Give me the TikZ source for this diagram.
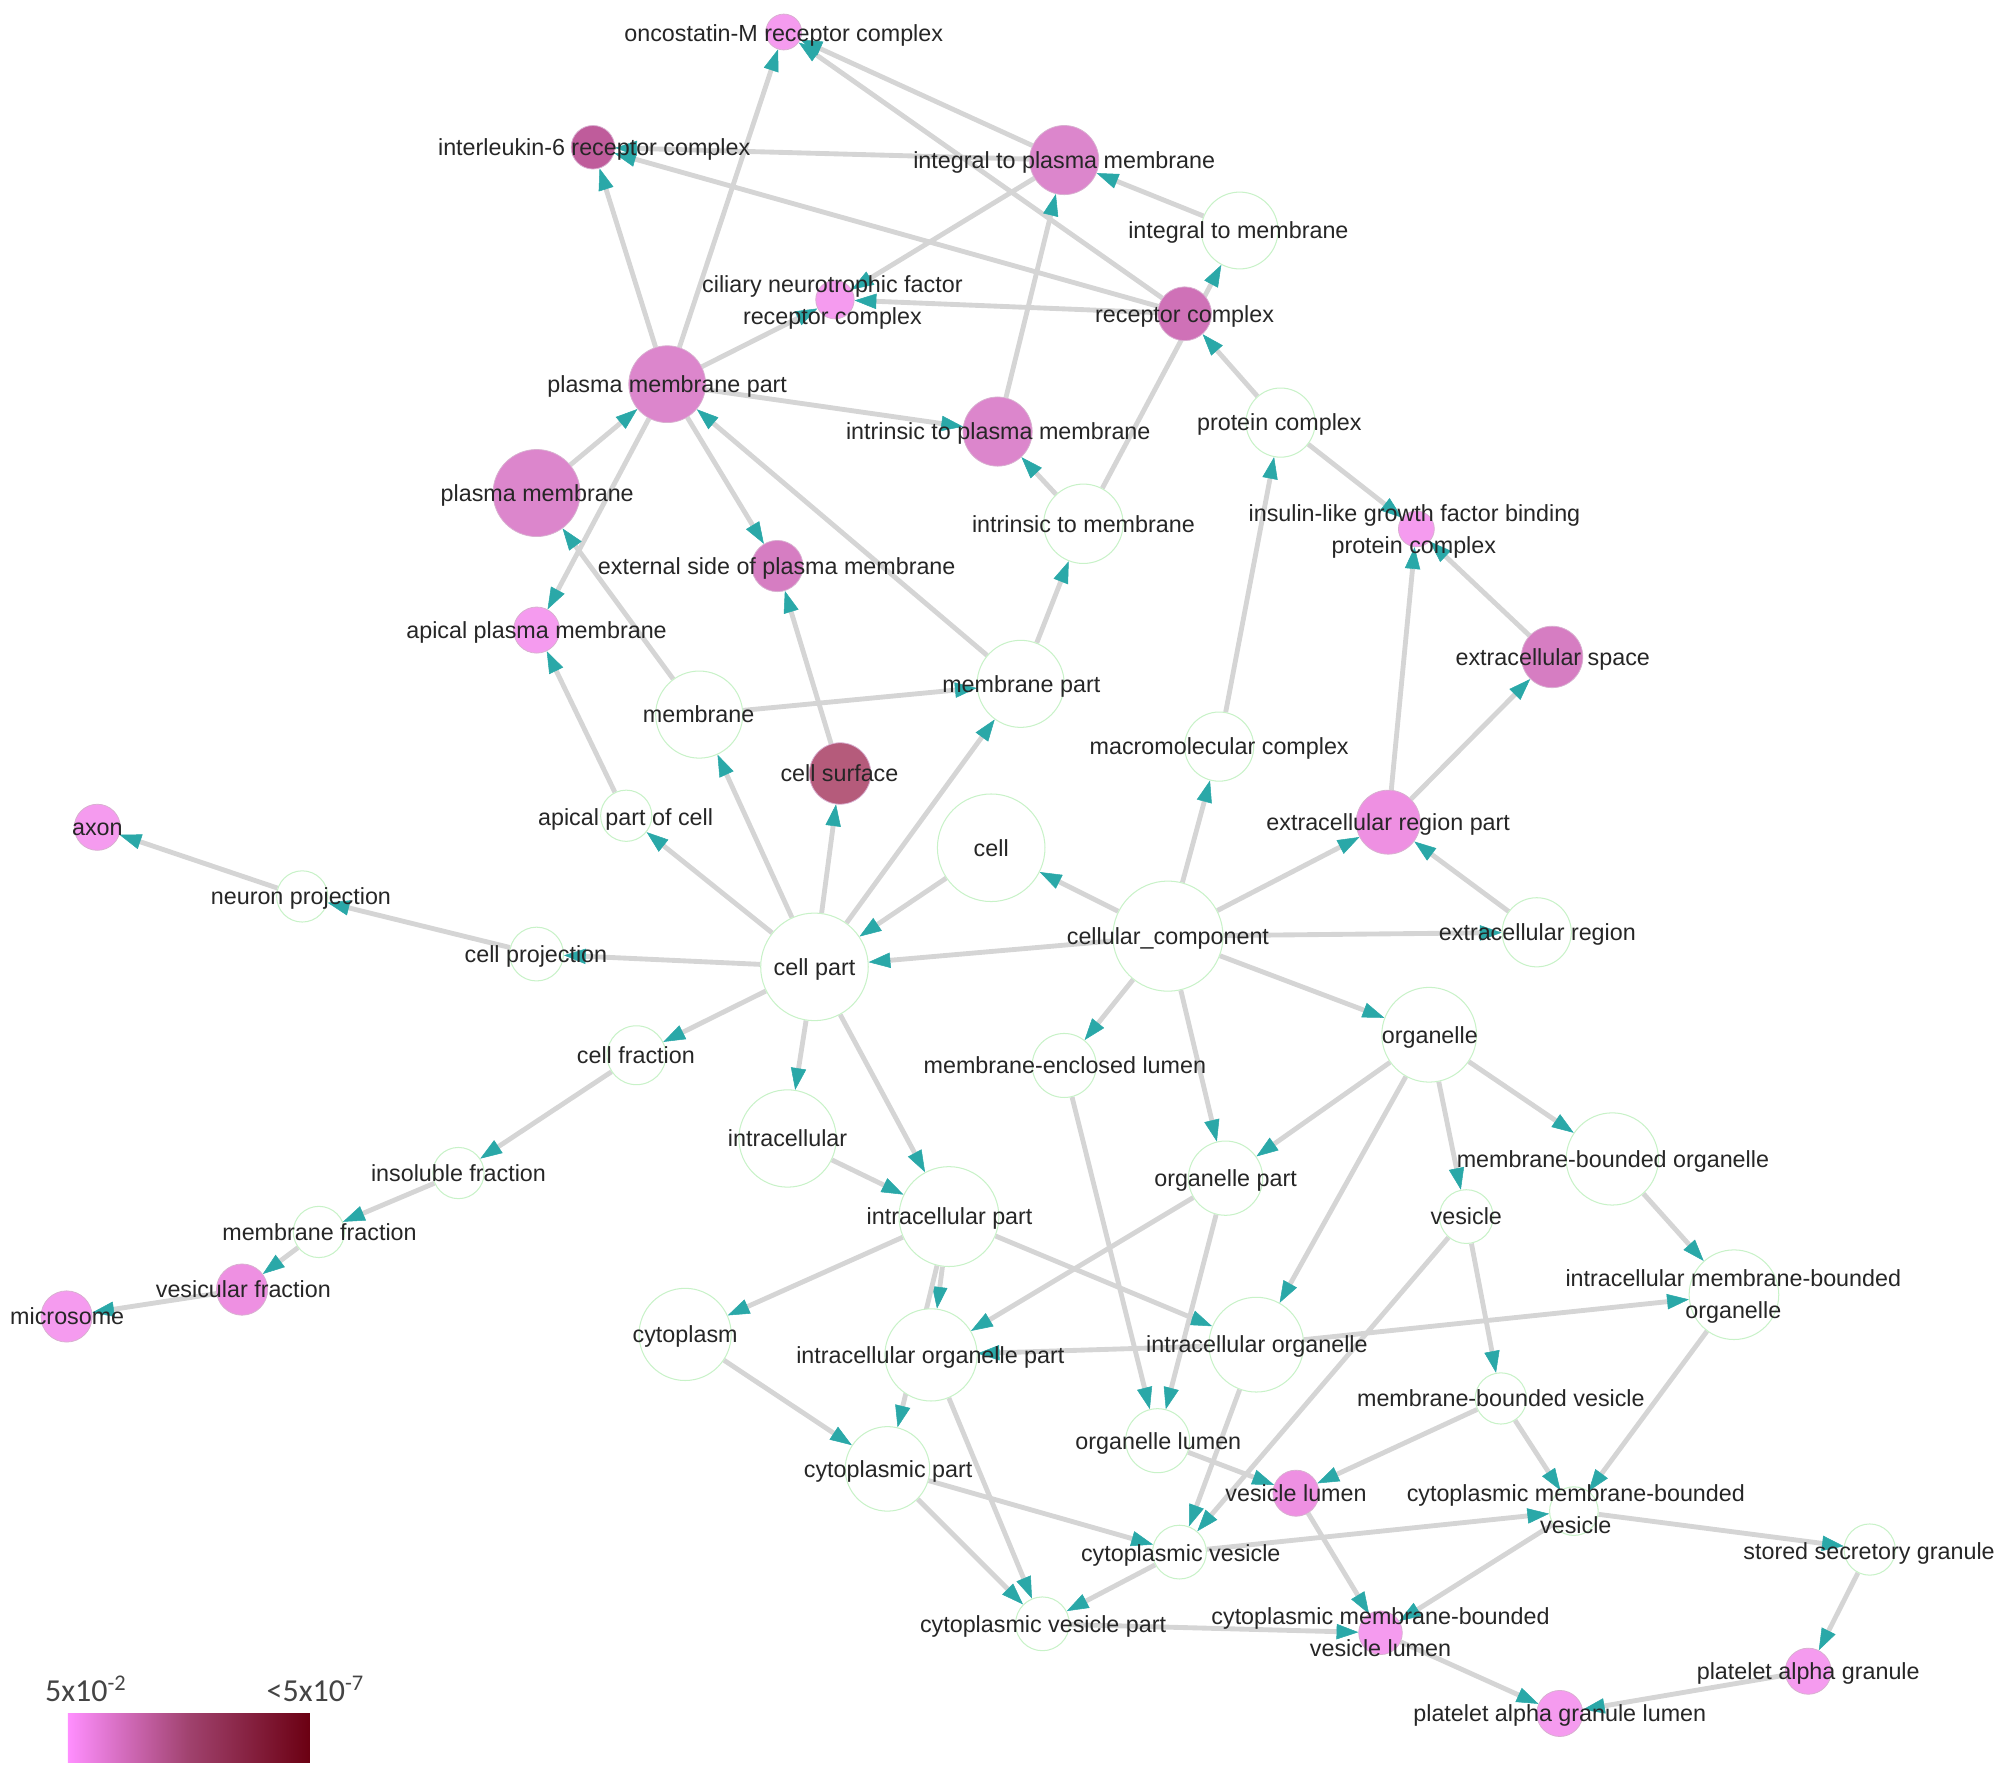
\documentclass[tikz,border=0pt]{standalone}
\usepackage{fontspec}
\setmainfont{Liberation Sans}
\newfontfamily\legfont{Carlito}
\usetikzlibrary{arrows.meta}
\pgfdeclarelayer{bg}
\pgfsetlayers{bg,main}
\definecolor{lp}{HTML}{F59BEF}
\definecolor{lp2}{HTML}{EE90E2}
\definecolor{mp}{HTML}{DC86CC}
\definecolor{mp2}{HTML}{D67DC2}
\definecolor{rc}{HTML}{CF71B7}
\definecolor{il}{HTML}{BF5C9B}
\definecolor{cs}{HTML}{B55B7B}
\definecolor{wborder}{HTML}{C8F2C8}
\definecolor{pborder}{HTML}{D8B0D0}
\definecolor{labtext}{HTML}{262626}
\definecolor{edgegray}{HTML}{D5D5D5}
\definecolor{arrowteal}{HTML}{2AA8A8}
\definecolor{legL}{HTML}{FF8FFF}
\definecolor{legM}{HTML}{A0426E}
\definecolor{legR}{HTML}{6B0012}
\definecolor{legtext}{HTML}{444444}
\tikzset{
  wcirc/.style={circle,draw=wborder,line width=0.8pt,fill=white,inner sep=0pt},
  pcirc/.style={circle,draw=pborder,line width=0.6pt,inner sep=0pt},
  lab/.style={text=labtext,font=\fontsize{18.2}{22}\selectfont,inner sep=0pt,text height=14pt,text depth=1pt},
  edge/.style={draw=edgegray,line width=3.8pt,-{Triangle[length=17pt,width=12pt,color=arrowteal,line width=0.4pt]}},
  legtxt/.style={text=legtext,font=\legfont\fontsize{25}{28}\selectfont,inner sep=0pt,anchor=base west}
}
\newcommand\mkw[4]{\node[wcirc,minimum size=#4pt] (#1) at (#2,#3) {};}
\newcommand\mkp[5]{\node[pcirc,fill=#5,minimum size=#4pt] (#1) at (#2,#3) {};}
\newcommand\mkl[3]{\node[lab] at (#1,#2) {#3};}
\newcommand\mke[2]{\draw[edge] (#1) -- (#2);}
\begin{document}
\begin{tikzpicture}[x=1pt,y=-1pt]
\useasboundingbox (0,0) rectangle (1568,1388);
% nodes
\mkp{osm}{612}{25}{28}{lp}
\mkp{il6}{463}{115}{34}{il}
\mkp{integpm}{831}{125}{54}{mp}
\mkw{integmem}{968}{180}{60}
\mkp{cntf}{652}{234}{30}{lp}
\mkp{receptor}{925}{245}{42}{rc}
\mkp{pmpart}{521}{300}{60}{mp}
\mkp{intrpm}{779}{337}{54}{mp}
\mkw{protc}{1000}{330}{54}
\mkp{pm}{419}{385}{68}{mp}
\mkw{intrmem}{846}{409}{62}
\mkp{igf}{1106}{413}{28}{lp}
\mkp{extside}{607}{442}{40}{mp2}
\mkp{apicalpm}{419}{492}{36}{lp}
\mkp{exspace}{1212}{513}{48}{mp2}
\mkw{membrane}{546}{558}{68}
\mkw{mempart}{797}{534}{68}
\mkp{cellsurf}{656}{604}{48}{cs}
\mkw{macro}{952}{583}{54}
\mkw{apicalcell}{489}{637}{40}
\mkp{erpart}{1084}{642}{50}{lp2}
\mkp{axon}{76}{646}{36}{lp}
\mkw{cell}{774}{662}{84}
\mkw{neuron}{236}{700}{40}
\mkw{cc}{912}{731}{86}
\mkw{exreg}{1200}{728}{54}
\mkw{cellproj}{419}{745}{42}
\mkw{cellpart}{636}{755}{84}
\mkw{organelle}{1116}{808}{74}
\mkw{cellfrac}{497}{824}{46}
\mkw{mel}{831}{832}{50}
\mkw{intracell}{615}{889}{76}
\mkw{mborg}{1259}{905}{72}
\mkw{insol}{358}{916}{40}
\mkw{orgpart}{957}{920}{58}
\mkw{vesicle}{1145}{950}{42}
\mkw{intrapart}{741}{950}{78}
\mkw{memfrac}{249}{962}{40}
\mkw{imborg}{1354}{1011}{70}
\mkp{vesfrac}{189}{1007}{40}{lp2}
\mkp{microsome}{52}{1028}{40}{lp}
\mkw{cytoplasm}{535}{1042}{72}
\mkw{iorg}{981}{1050}{74}
\mkw{iorgpart}{727}{1058}{72}
\mkw{mbves}{1172}{1092}{40}
\mkw{orglumen}{904}{1125}{50}
\mkw{cytopart}{693}{1147}{66}
\mkp{veslumen}{1012}{1166}{36}{lp2}
\mkw{cmbves}{1229}{1180}{38}
\mkw{cytves}{921}{1212}{42}
\mkw{ssg}{1460}{1210}{40}
\mkw{cvpart}{814}{1268}{42}
\mkp{cmbvl}{1078}{1275}{34}{lp}
\mkp{pag}{1412}{1305}{36}{lp}
\mkp{pagl}{1218}{1338}{36}{lp}
% edges
\begin{pgfonlayer}{bg}
\mke{cc}{cell}
\mke{cc}{cellpart}
\mke{cc}{macro}
\mke{cc}{erpart}
\mke{cc}{mel}
\mke{cc}{organelle}
\mke{cc}{orgpart}
\mke{cc}{exreg}
\mke{exreg}{erpart}
\mke{erpart}{exspace}
\mke{erpart}{igf}
\mke{exspace}{igf}
\mke{macro}{protc}
\mke{protc}{receptor}
\mke{protc}{igf}
\mke{receptor}{cntf}
\mke{receptor}{il6}
\mke{receptor}{osm}
\mke{intrmem}{integmem}
\mke{integmem}{integpm}
\mke{integpm}{osm}
\mke{integpm}{il6}
\mke{integpm}{cntf}
\mke{pmpart}{osm}
\mke{pmpart}{il6}
\mke{pmpart}{cntf}
\mke{pmpart}{intrpm}
\mke{pmpart}{extside}
\mke{pmpart}{apicalpm}
\mke{pm}{pmpart}
\mke{intrpm}{integpm}
\mke{intrmem}{intrpm}
\mke{mempart}{intrmem}
\mke{mempart}{pmpart}
\mke{membrane}{mempart}
\mke{membrane}{pm}
\mke{cellsurf}{extside}
\mke{apicalcell}{apicalpm}
\mke{cellpart}{apicalcell}
\mke{cellpart}{membrane}
\mke{cellpart}{cellsurf}
\mke{cellpart}{mempart}
\mke{cell}{cellpart}
\mke{cellpart}{cellproj}
\mke{cellproj}{neuron}
\mke{neuron}{axon}
\mke{cellpart}{cellfrac}
\mke{cellfrac}{insol}
\mke{insol}{memfrac}
\mke{memfrac}{vesfrac}
\mke{vesfrac}{microsome}
\mke{cellpart}{intracell}
\mke{cellpart}{intrapart}
\mke{intracell}{intrapart}
\mke{intrapart}{cytoplasm}
\mke{intrapart}{iorgpart}
\mke{intrapart}{iorg}
\mke{intrapart}{cytopart}
\mke{orgpart}{iorgpart}
\mke{organelle}{orgpart}
\mke{organelle}{mborg}
\mke{organelle}{iorg}
\mke{organelle}{vesicle}
\mke{mborg}{imborg}
\mke{iorg}{imborg}
\mke{iorg}{iorgpart}
\mke{mel}{orglumen}
\mke{orgpart}{orglumen}
\mke{iorg}{cytves}
\mke{vesicle}{mbves}
\mke{vesicle}{cytves}
\mke{imborg}{cmbves}
\mke{mbves}{cmbves}
\mke{mbves}{veslumen}
\mke{orglumen}{veslumen}
\mke{veslumen}{cmbvl}
\mke{cmbves}{cmbvl}
\mke{cytves}{cmbves}
\mke{cmbves}{ssg}
\mke{ssg}{pag}
\mke{pag}{pagl}
\mke{cmbvl}{pagl}
\mke{cytopart}{cytves}
\mke{cytopart}{cvpart}
\mke{cytves}{cvpart}
\mke{iorgpart}{cvpart}
\mke{cvpart}{cmbvl}
\mke{cytoplasm}{cytopart}
\end{pgfonlayer}
% labels
\mkl{612}{26}{oncostatin-M receptor complex}
\mkl{464}{115}{interleukin-6 receptor complex}
\mkl{831}{125}{integral to plasma membrane}
\mkl{967}{180}{integral to membrane}
\mkl{650}{222}{ciliary neurotrophic factor}
\mkl{650}{247}{receptor complex}
\mkl{925}{245}{receptor complex}
\mkl{521}{300}{plasma membrane part}
\mkl{779.5}{337}{intrinsic to plasma membrane}
\mkl{999}{330}{protein complex}
\mkl{419.5}{385}{plasma membrane}
\mkl{846}{409}{intrinsic to membrane}
\mkl{1104.5}{401}{insulin-like growth factor binding}
\mkl{1104}{426}{protein complex}
\mkl{606.5}{442}{external side of plasma membrane}
\mkl{419}{492}{apical plasma membrane}
\mkl{1212.5}{513}{extracellular space}
\mkl{545.5}{558}{membrane}
\mkl{797.5}{534}{membrane part}
\mkl{655.5}{604}{cell surface}
\mkl{952}{583}{macromolecular complex}
\mkl{488.5}{638}{apical part of cell}
\mkl{1084}{642}{extracellular region part}
\mkl{76}{646}{axon}
\mkl{774}{662}{cell}
\mkl{235}{700}{neuron projection}
\mkl{912}{731}{cellular\_component}
\mkl{1200.5}{728}{extracellular region}
\mkl{418.5}{745}{cell projection}
\mkl{636}{755}{cell part}
\mkl{1116.5}{808}{organelle}
\mkl{496.5}{824}{cell fraction}
\mkl{831.5}{832}{membrane-enclosed lumen}
\mkl{615}{889}{intracellular}
\mkl{1259.5}{905}{membrane-bounded organelle}
\mkl{358}{916}{insoluble fraction}
\mkl{957}{920}{organelle part}
\mkl{1145}{950}{vesicle}
\mkl{741.5}{950}{intracellular part}
\mkl{249.5}{962}{membrane fraction}
\mkl{1353.5}{998}{intracellular membrane-bounded}
\mkl{1353.5}{1023}{organelle}
\mkl{190}{1007}{vesicular fraction}
\mkl{52.5}{1028}{microsome}
\mkl{535}{1042}{cytoplasm}
\mkl{981.5}{1050}{intracellular organelle}
\mkl{726.5}{1058}{intracellular organelle part}
\mkl{1172}{1092}{membrane-bounded vesicle}
\mkl{904.5}{1125}{organelle lumen}
\mkl{693.5}{1147}{cytoplasmic part}
\mkl{1012}{1166}{vesicle lumen}
\mkl{1230.5}{1166}{cytoplasmic membrane-bounded}
\mkl{1230.5}{1191}{vesicle}
\mkl{922}{1213}{cytoplasmic vesicle}
\mkl{1459.5}{1211}{stored secretory granule}
\mkl{814.5}{1268}{cytoplasmic vesicle part}
\mkl{1078}{1262}{cytoplasmic membrane-bounded}
\mkl{1078}{1287}{vesicle lumen}
\mkl{1412}{1305}{platelet alpha granule}
\mkl{1218}{1338}{platelet alpha granule lumen}
% legend
\shade[left color=legL,right color=legR,middle color=legM] (53,1338) rectangle (242,1376);
\node[legtxt] (legmin) at (35,1329) {5x10\textsuperscript{-2}};
\node[legtxt] (legmax) at (208,1329) {<5x10\textsuperscript{-7}};
\end{tikzpicture}
\end{document}
